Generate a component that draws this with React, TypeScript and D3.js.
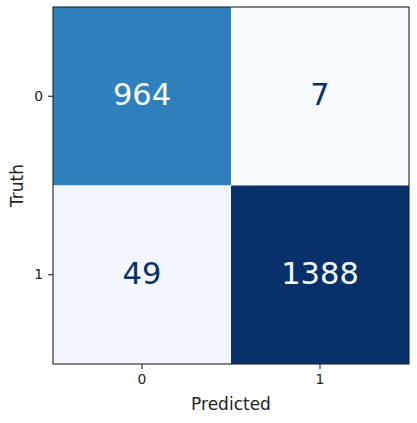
import React, { useEffect, useRef } from 'react';
import * as d3 from 'd3';

// confusion matrix: rows = truth, cols = predicted
const classes = ['0', '1'];
const row0 = [964, 7];
const row1 = [49, 1388];
const xLabel = 'Predicted';
const yLabel = 'Truth';

export default function App() {
  const svgRef = useRef<SVGSVGElement>(null);

  useEffect(() => {
    const W = 417;
    const H = 423;
    const margin = { top: 7, right: 8, bottom: 59, left: 53 };
    const width = W - margin.left - margin.right;
    const height = H - margin.top - margin.bottom;

    const root = d3.select(svgRef.current);
    root.selectAll('*').remove();
    root.attr('width', W).attr('height', H);

    const svg = root.append('g')
      .attr('transform', `translate(${margin.left},${margin.top})`);

    const rows = [row0, row1];
    const cells = rows.flatMap((r, i) => r.map((v, j) => ({ truth: classes[i], pred: classes[j], value: v })));

    const x = d3.scaleBand().domain(classes).range([0, width]);
    const y = d3.scaleBand().domain(classes).range([0, height]);

    const vals = cells.map(c => c.value);
    const vmin = d3.min(vals) as number;
    const vmax = d3.max(vals) as number;
    const color = d3.scaleSequential(d3.interpolateBlues).domain([vmin, vmax]);
    const thresh = (vmin + vmax) / 2;

    // cells
    svg.selectAll('.cell')
      .data(cells)
      .enter()
      .append('rect')
      .attr('class', 'cell')
      .attr('x', d => x(d.pred) as number)
      .attr('y', d => y(d.truth) as number)
      .attr('width', x.bandwidth())
      .attr('height', y.bandwidth())
      .attr('fill', d => color(d.value));

    // values
    svg.selectAll('.val')
      .data(cells)
      .enter()
      .append('text')
      .attr('x', d => (x(d.pred) as number) + x.bandwidth() / 2)
      .attr('y', d => (y(d.truth) as number) + y.bandwidth() / 2 + 9)
      .attr('text-anchor', 'middle')
      .style('font-family', 'DejaVu Sans')
      .style('font-size', '30.5px')
      .attr('fill', d => d.value > thresh ? '#f7fbff' : '#08306b')
      .text(d => d.value);

    // axes
    const xAxis = svg.append('g')
      .attr('transform', `translate(0,${height})`)
      .call(d3.axisBottom(x).tickSize(4.9).tickPadding(4.9));
    const yAxis = svg.append('g')
      .call(d3.axisLeft(y).tickSize(4.9).tickPadding(4.9));

    [xAxis, yAxis].forEach(ax => {
      ax.select('.domain').remove();
      ax.attr('font-size', null).attr('font-family', null);
      ax.selectAll('line').attr('stroke', '#222').attr('stroke-width', 1.1);
      ax.selectAll('text')
        .style('font-family', 'DejaVu Sans')
        .style('font-size', '13.9px')
        .attr('fill', '#222');
    });

    // frame
    svg.append('rect')
      .attr('width', width)
      .attr('height', height)
      .attr('fill', 'none')
      .attr('stroke', '#222')
      .attr('stroke-width', 1.1);

    // axis labels
    svg.append('text')
      .attr('x', width / 2)
      .attr('y', height + 46)
      .attr('text-anchor', 'middle')
      .style('font-family', 'DejaVu Sans')
      .style('font-size', '17px')
      .attr('fill', '#222')
      .text(xLabel);

    svg.append('text')
      .attr('transform', `translate(${-30.5},${height / 2}) rotate(-90)`)
      .attr('text-anchor', 'middle')
      .style('font-family', 'DejaVu Sans')
      .style('font-size', '17px')
      .attr('fill', '#222')
      .text(yLabel);
  }, []);

  return (
    <svg ref={svgRef} style={{ position: 'absolute', left: 0, top: 0, background: '#fff' }}></svg>
  );
}
